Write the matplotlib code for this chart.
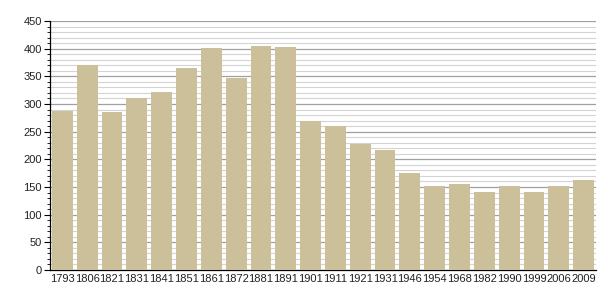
import matplotlib.pyplot as plt
from matplotlib.ticker import MultipleLocator

years = ["1793", "1806", "1821", "1831", "1841", "1851", "1861", "1872", "1881", "1891",
         "1901", "1911", "1921", "1931", "1946", "1954", "1968", "1982", "1990", "1999",
         "2006", "2009"]
population = [287, 370, 286, 311, 322, 365, 401, 347, 405, 403,
              269, 260, 228, 217, 175, 152, 155, 141, 152, 141,
              152, 163]

plt.rcParams["font.family"] = ["Liberation Sans", "DejaVu Sans"]

fig = plt.figure(figsize=(6.05, 3.0), dpi=100)
ax = fig.add_axes([50 / 605, 0.1, 546 / 605, 0.83])

x = range(len(years))
ax.bar(x, population, width=0.84, color="#cbc09a", zorder=3)

ax.set_xlim(-0.5, len(years) - 0.5)
ax.set_ylim(0, 450)
ax.yaxis.set_major_locator(MultipleLocator(50))
ax.yaxis.set_minor_locator(MultipleLocator(10))
ax.grid(True, which="major", axis="y", color="#a0a0a0", linewidth=0.9, zorder=0)
ax.grid(True, which="minor", axis="y", color="#d4d4d4", linewidth=0.8, zorder=0)

ax.set_xticks(list(x))
ax.set_xticklabels(years)
ax.tick_params(axis="x", length=0, labelsize=8, pad=3, labelcolor="#222222")
ax.tick_params(axis="y", which="major", length=4, labelsize=8, pad=2, labelcolor="#222222")
ax.tick_params(axis="y", which="minor", length=2)

for side in ("top", "right"):
    ax.spines[side].set_visible(False)
ax.spines["left"].set_linewidth(0.9)
ax.spines["bottom"].set_linewidth(0.9)

fig.savefig("out.png", dpi=100)
